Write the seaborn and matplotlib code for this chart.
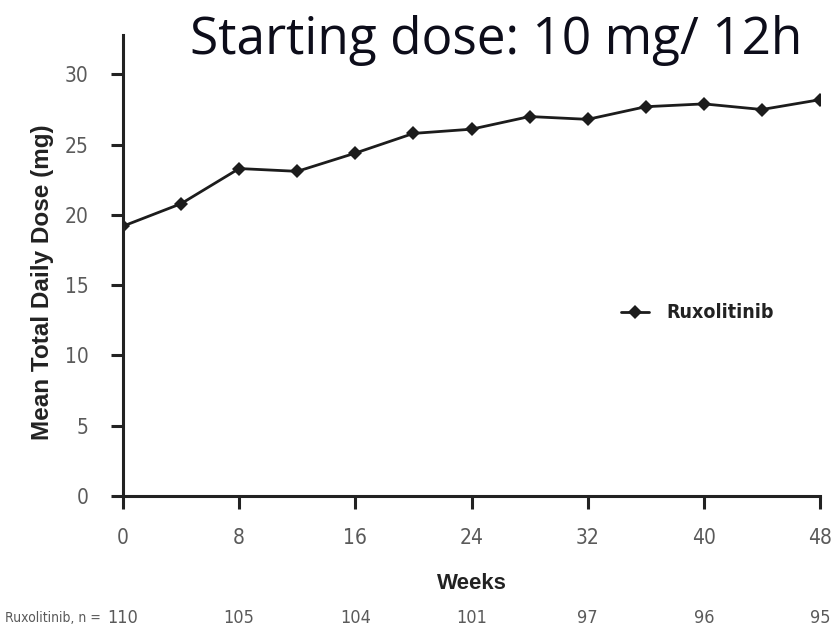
import matplotlib
matplotlib.use("Agg")
import matplotlib.pyplot as plt
import matplotlib.transforms as mtransforms
from matplotlib import font_manager
import seaborn as sns
import pandas as pd

# Mean total daily dose over the first 48 weeks
weeks = [0, 4, 8, 12, 16, 20, 24, 28, 32, 36, 40, 44, 48]
mean_dose = [19.2, 20.8, 23.3, 23.1, 24.4, 25.8, 26.1, 27.0, 26.8, 27.7, 27.9, 27.5, 28.2]

# Patients at risk shown under the axis
n_weeks = [0, 8, 16, 24, 32, 40, 48]
n_patients = [110, 105, 104, 101, 97, 96, 95]

y_ticks = [0, 5, 10, 15, 20, 25, 30]
x_ticks = [0, 8, 16, 24, 32, 40, 48]

sns.set_theme(style="ticks")
plt.rcParams["font.family"] = ["Liberation Sans", "DejaVu Sans"]


def condensed_font(bold=False):
    """Pick a narrow face if one is installed, else a plain sans."""
    want = 700 if bold else 400
    for f in font_manager.fontManager.ttflist:
        narrow = ("Narrow" in f.name or "Condensed" in f.name
                  or f.stretch in ("condensed", "semi-condensed"))
        w = f.weight if isinstance(f.weight, int) else (700 if "bold" in str(f.weight) else 400)
        if narrow and w == want and f.style == "normal":
            return font_manager.FontProperties(fname=f.fname)
    return font_manager.FontProperties(family="Liberation Sans",
                                       weight="bold" if bold else "normal")


tick_font = condensed_font(False)
legend_font = condensed_font(True)

df = pd.DataFrame({"Week": weeks, "Dose": mean_dose, "Arm": "Ruxolitinib"})

fig = plt.figure(figsize=(8.39, 6.30), dpi=100)
ax = fig.add_axes([0.1466, 0.2127, 0.8308, 0.7317])

sns.lineplot(data=df, x="Week", y="Dose", hue="Arm", palette=["#1c1c1c"],
             marker="D", markersize=7, linewidth=2.0, markeredgewidth=0,
             ax=ax)

ax.set_xlim(0, 48)
ax.set_ylim(0, 32.8)
ax.set_xticks(x_ticks)
ax.set_yticks(y_ticks)
ax.tick_params(axis="both", which="major", length=9, width=2.2, color="#222222",
               labelcolor="#5a5a5a")
ax.tick_params(axis="x", pad=14)
ax.tick_params(axis="y", pad=16)
for lab in ax.get_xticklabels() + ax.get_yticklabels():
    lab.set_fontproperties(tick_font)
    lab.set_fontsize(15)

for side in ("top", "right"):
    ax.spines[side].set_visible(False)
for side in ("left", "bottom"):
    ax.spines[side].set_linewidth(2.2)
    ax.spines[side].set_color("#222222")
    ax.spines[side].set_clip_on(False)

ax.set_xlabel("Weeks", fontsize=16, fontweight="bold", color="#222222", labelpad=18)
ax.set_ylabel("Mean Total Daily Dose (mg)", fontsize=17.5, fontweight="bold",
              color="#222222")
ax.yaxis.set_label_coords(-0.099, 0.464)

legend_font.set_size(14)
leg = ax.legend(loc="center left", bbox_to_anchor=(0.69, 0.397), frameon=False,
                handlelength=1.4, handletextpad=0.9, prop=legend_font)
for txt in leg.get_texts():
    txt.set_color("#222222")

# Number of patients at each visit
trans = mtransforms.blended_transform_factory(ax.transData, ax.transAxes)
for wk, n in zip(n_weeks, n_patients):
    t = ax.text(wk, -0.265, str(n), transform=trans, ha="center", va="center",
                color="#5a5a5a", fontproperties=tick_font)
    t.set_fontsize(13)
t = ax.text(-1.5, -0.265, "Ruxolitinib, n =", transform=trans, ha="right",
            va="center", color="#5a5a5a", fontproperties=tick_font)
t.set_fontsize(10)

fig.text(0.591, 0.935, "Starting dose: 10 mg/ 12h", ha="center", va="center",
         fontsize=37, color="#0d0d1a", family=["Open Sans", "DejaVu Sans"])

fig.savefig("out.png", dpi=100)
